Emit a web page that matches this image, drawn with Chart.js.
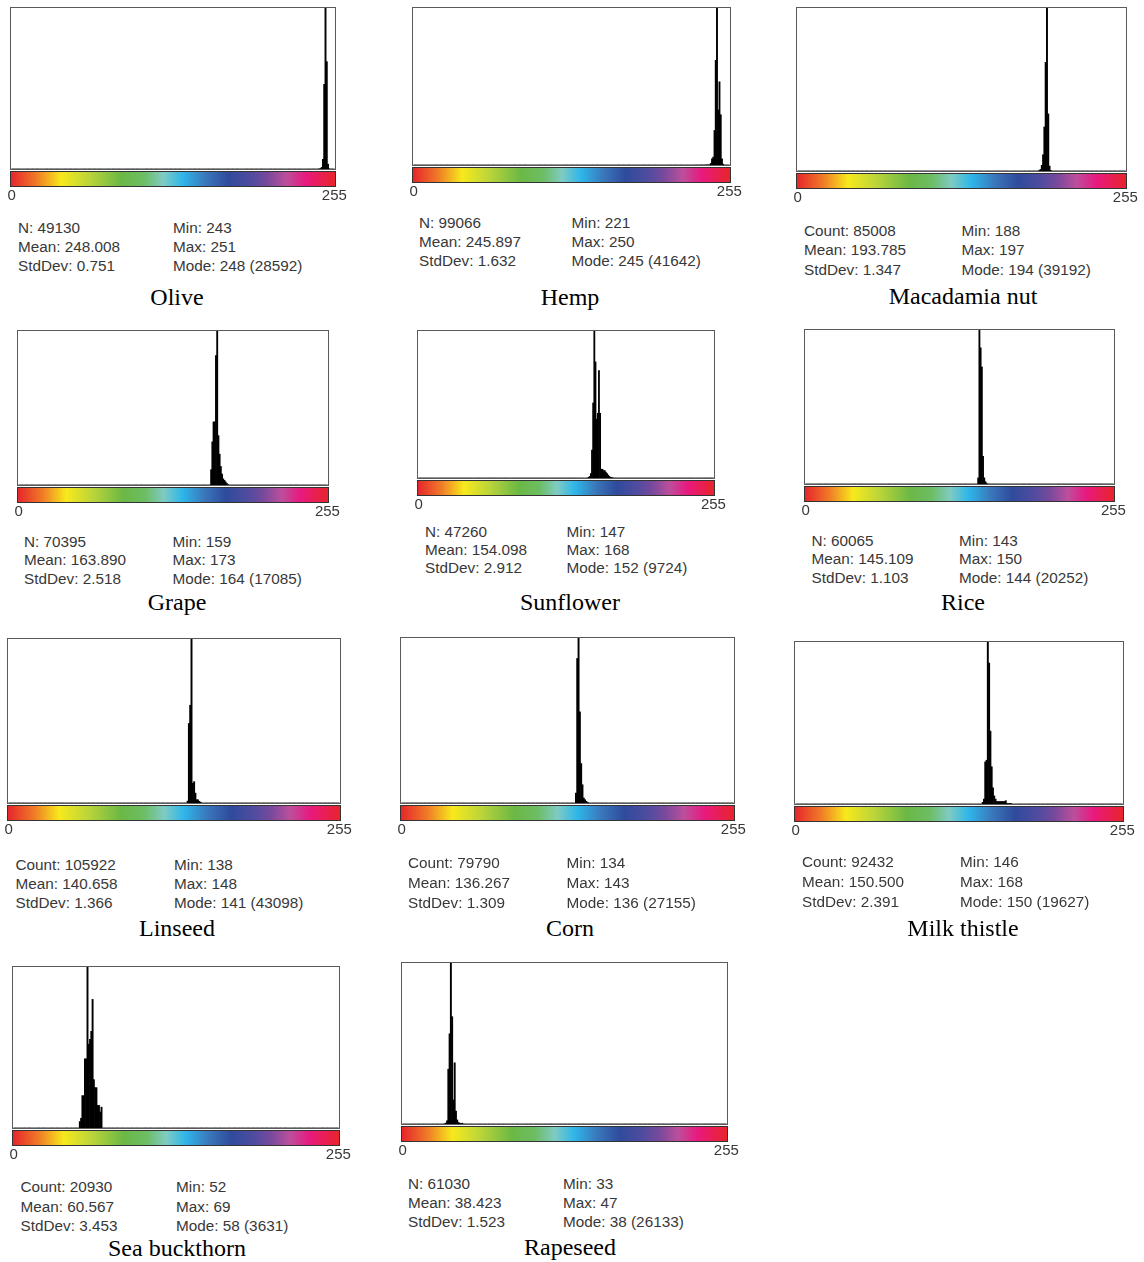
<!DOCTYPE html>
<html><head><meta charset="utf-8">
<script src="https://cdn.jsdelivr.net/npm/chart.js@4"></script>
<style>
html,body{margin:0;padding:0;background:#fff;}
#page{position:relative;width:1144px;height:1262px;overflow:hidden;background:#fff;}
#page canvas{position:absolute;}
.stat{position:absolute;font-family:"Liberation Sans",Arial,sans-serif;font-size:15.3px;line-height:19px;color:#383838;white-space:nowrap;}
.title{position:absolute;font-family:"Liberation Serif","Times New Roman",serif;font-size:24px;line-height:28px;color:#000;white-space:nowrap;transform:translateX(-50%);}
</style></head>
<body><div id="page"></div>
<script>
// ---------- data ----------
const BINS = Array.from({length:256}, (_, i) => i);   // grey levels 0..255
const X_TICKS = [0, 255];

const TITLES = ['Olive','Hemp','Macadamia nut','Grape','Sunflower','Rice','Linseed','Corn','Milk thistle','Sea buckthorn','Rapeseed'];
const COUNT_LABELS = ['N','N','Count','N','N','N','Count','Count','Count','Count','N'];
const COUNTS_N = [49130, 99066, 85008, 70395, 47260, 60065, 105922, 79790, 92432, 20930, 61030];
const MEANS = ['248.008','245.897','193.785','163.890','154.098','145.109','140.658','136.267','150.500','60.567','38.423'];
const STDDEVS = ['0.751','1.632','1.347','2.518','2.912','1.103','1.366','1.309','2.391','3.453','1.523'];
const MINS = [243, 221, 188, 159, 147, 143, 138, 134, 146, 52, 33];
const MAXS = [251, 250, 197, 173, 168, 150, 148, 143, 168, 69, 47];
const MODES = [248, 245, 194, 164, 152, 144, 141, 136, 150, 58, 38];
const MODE_COUNTS = [28592, 41642, 39192, 17085, 9724, 20252, 43098, 27155, 19627, 3631, 26133];

// histogram counts, one entry per grey level from MIN to MAX
const OLIVE = [16, 47, 158, 950, 8316, 28592, 10540, 475, 32];
const HEMP = [4, 0, 0, 2, 0, 3, 0, 5, 4, 6, 8, 10, 12, 15, 20, 25, 30, 40, 60,
              300, 1200, 1500, 6600, 20000, 41642, 10500, 15900, 9600, 1200, 150];
const MACADAMIA = [90, 290, 1020, 2925, 7900, 19500, 39192, 10240, 880, 90];
const GRAPE = [1700, 4780, 7000, 7000, 14350, 17085, 5470, 3420, 2050, 1200, 680, 510, 340, 170, 50];
const SUNFLOWER = [50, 100, 290, 1850, 4960, 9724, 7680, 3890, 4280, 7100, 4280, 580, 580, 490, 490, 390, 290, 190, 100, 50, 30, 20];
const RICE = [800, 20252, 17900, 15390, 3645, 810, 300, 100];
const LINSEED = [500, 20900, 25690, 43098, 5170, 5600, 2590, 860, 860, 430, 200];
const CORN = [1630, 23790, 27155, 15000, 6500, 3000, 820, 540, 270, 100];
const MILK_THISTLE = [200, 590, 5100, 5300, 19627, 17075, 8830, 4510, 1960, 980, 590, 300, 300, 300, 300, 300, 300, 300, 400, 60, 60, 60, 60];
const SEA_BUCKTHORN = [145, 220, 730, 730, 1560, 1560, 3631, 1890, 2000, 2180, 2900, 1090, 910, 910, 510, 510, 360, 470];
const RAPESEED = [30, 80, 310, 5270, 8680, 26133, 10330, 2320, 5890, 1240, 390, 150, 80, 50, 80];
const HISTS = [OLIVE, HEMP, MACADAMIA, GRAPE, SUNFLOWER, RICE, LINSEED, CORN, MILK_THISTLE, SEA_BUCKTHORN, RAPESEED];

// ---------- layout (pixels) ----------
// frame box [left, top, right, bottom]
const FRAMES = [[10,7,335,169],[412,7,730,165],[796,7,1126,171],
                [17,330,328,485],[417,330,714,478],[804,329,1114,484],
                [7,638,340,803],[400,637,734,803],[794,641,1123,804],
                [12,966,339,1128],[401,962,727,1124]];
// stats block: [col1 x, col2 x, first-row centre y, row gap]
const STAT_POS = [[18,173,227,19],[419,571.5,222.5,18.7],[804,961.5,230,19.6],
                  [24,172.5,541,18.5],[425,566.5,531.5,17.8],[811.5,959,540,18.6],
                  [15.5,174,864,19],[408,566.5,862.3,20],[802,960,861.7,20],
                  [20.5,176,1186.7,19.2],[408,563,1183.3,18.8]];
// title: [centre x, baseline y]
const TITLE_POS = [[177,305],[570,305],[963,304],[177,610],[570,610.5],[963,610],
                   [177,936],[570,936],[963,936],[177,1256.5],[570,1255]];

const COLOR_STOPS = [[0,'#e6262c'],[0.08,'#f07c27'],[0.155,'#f7e91c'],[0.24,'#bcd539'],
  [0.34,'#6bb845'],[0.41,'#6dbd64'],[0.47,'#7fcbc3'],[0.53,'#2eb6ea'],[0.6,'#3a78bb'],
  [0.67,'#2f4b9c'],[0.74,'#4f4c9f'],[0.79,'#76499c'],[0.85,'#bc4f9c'],[0.91,'#e8197f'],[1,'#e8242b']];

const PADL = 28, PADR = 36, PADT = 4, AXIS_H = 40, TICK_PAD = 18;

// ImageJ style scaling: clip the mode when it dwarfs the second highest bin
function yMaxFor(counts) {
  const s = [...counts].sort((a, b) => b - a);
  const m = s[0], m2 = s[1] || 0;
  return (m2 > 0 && m > 2 * m2) ? Math.floor(m2 * 1.5) : m;
}

const framePlugin = {
  id: 'frameAndBar',
  afterDatasetsDraw(chart) {
    const {ctx, chartArea: a} = chart;
    ctx.save();
    const w = a.right - a.left;
    const y0 = a.bottom + 3, h = 14;
    const g = ctx.createLinearGradient(a.left, 0, a.right, 0);
    COLOR_STOPS.forEach(([p, c]) => g.addColorStop(p, c));
    ctx.fillStyle = g;
    ctx.fillRect(a.left, y0, w, h);
    ctx.lineWidth = 1;
    ctx.strokeStyle = '#333';
    ctx.strokeRect(a.left - 0.5, y0 - 0.5, w + 1, h + 1);
    ctx.strokeStyle = '#5a5a5a';
    ctx.strokeRect(a.left - 0.5, a.top - 0.5, w + 1, a.bottom - a.top + 1);
    ctx.restore();
  }
};

const page = document.getElementById('page');

HISTS.forEach((counts, i) => {
  const [L, T, R, B] = FRAMES[i];
  const cw = PADL + (R - L - 1) + PADR;
  const ch = PADT + (B - T - 1) + AXIS_H;
  const cv = document.createElement('canvas');
  cv.width = cw; cv.height = ch;
  cv.style.width = cw + 'px'; cv.style.height = ch + 'px';
  cv.style.left = (L + 1 - PADL) + 'px';
  cv.style.top = (T + 1 - PADT) + 'px';
  page.appendChild(cv);

  const data = BINS.map(b => (b >= MINS[i] && b <= MAXS[i]) ? counts[b - MINS[i]] : 0);

  new Chart(cv, {
    type: 'bar',
    data: { labels: BINS, datasets: [{ data, backgroundColor: '#000', borderWidth: 0,
      barPercentage: 1, categoryPercentage: 1 }] },
    options: {
      responsive: false, animation: false, devicePixelRatio: 1, events: [],
      layout: { padding: { left: PADL, right: PADR, top: PADT, bottom: 0 } },
      plugins: { legend: { display: false }, tooltip: { enabled: false } },
      scales: {
        x: {
          type: 'category', offset: true,
          grid: { display: false, drawTicks: false }, border: { display: false },
          ticks: { autoSkip: false, maxRotation: 0, minRotation: 0, padding: TICK_PAD, color: '#383838',
            font: { family: '"Liberation Sans", Arial, sans-serif', size: 15 },
            callback: (v, idx) => X_TICKS.includes(idx) ? String(BINS[idx]) : '' },
          afterFit: s => { s.height = AXIS_H; }
        },
        y: { display: false, min: 0, max: yMaxFor(counts) }
      }
    },
    plugins: [framePlugin]
  });

  const [c1, c2, r1, gap] = STAT_POS[i];
  const left = [`${COUNT_LABELS[i]}: ${COUNTS_N[i]}`, `Mean: ${MEANS[i]}`, `StdDev: ${STDDEVS[i]}`];
  const right = [`Min: ${MINS[i]}`, `Max: ${MAXS[i]}`, `Mode: ${MODES[i]} (${MODE_COUNTS[i]})`];
  for (let r = 0; r < 3; r++) {
    [[c1, left[r]], [c2, right[r]]].forEach(([x, txt]) => {
      const d = document.createElement('div');
      d.className = 'stat';
      d.textContent = txt;
      d.style.left = x + 'px';
      d.style.top = (r1 + r * gap - 9.4) + 'px';
      page.appendChild(d);
    });
  }
  const t = document.createElement('div');
  t.className = 'title';
  t.textContent = TITLES[i];
  t.style.left = TITLE_POS[i][0] + 'px';
  t.style.top = (TITLE_POS[i][1] - 22.2) + 'px';
  page.appendChild(t);
});
</script>
</body></html>
